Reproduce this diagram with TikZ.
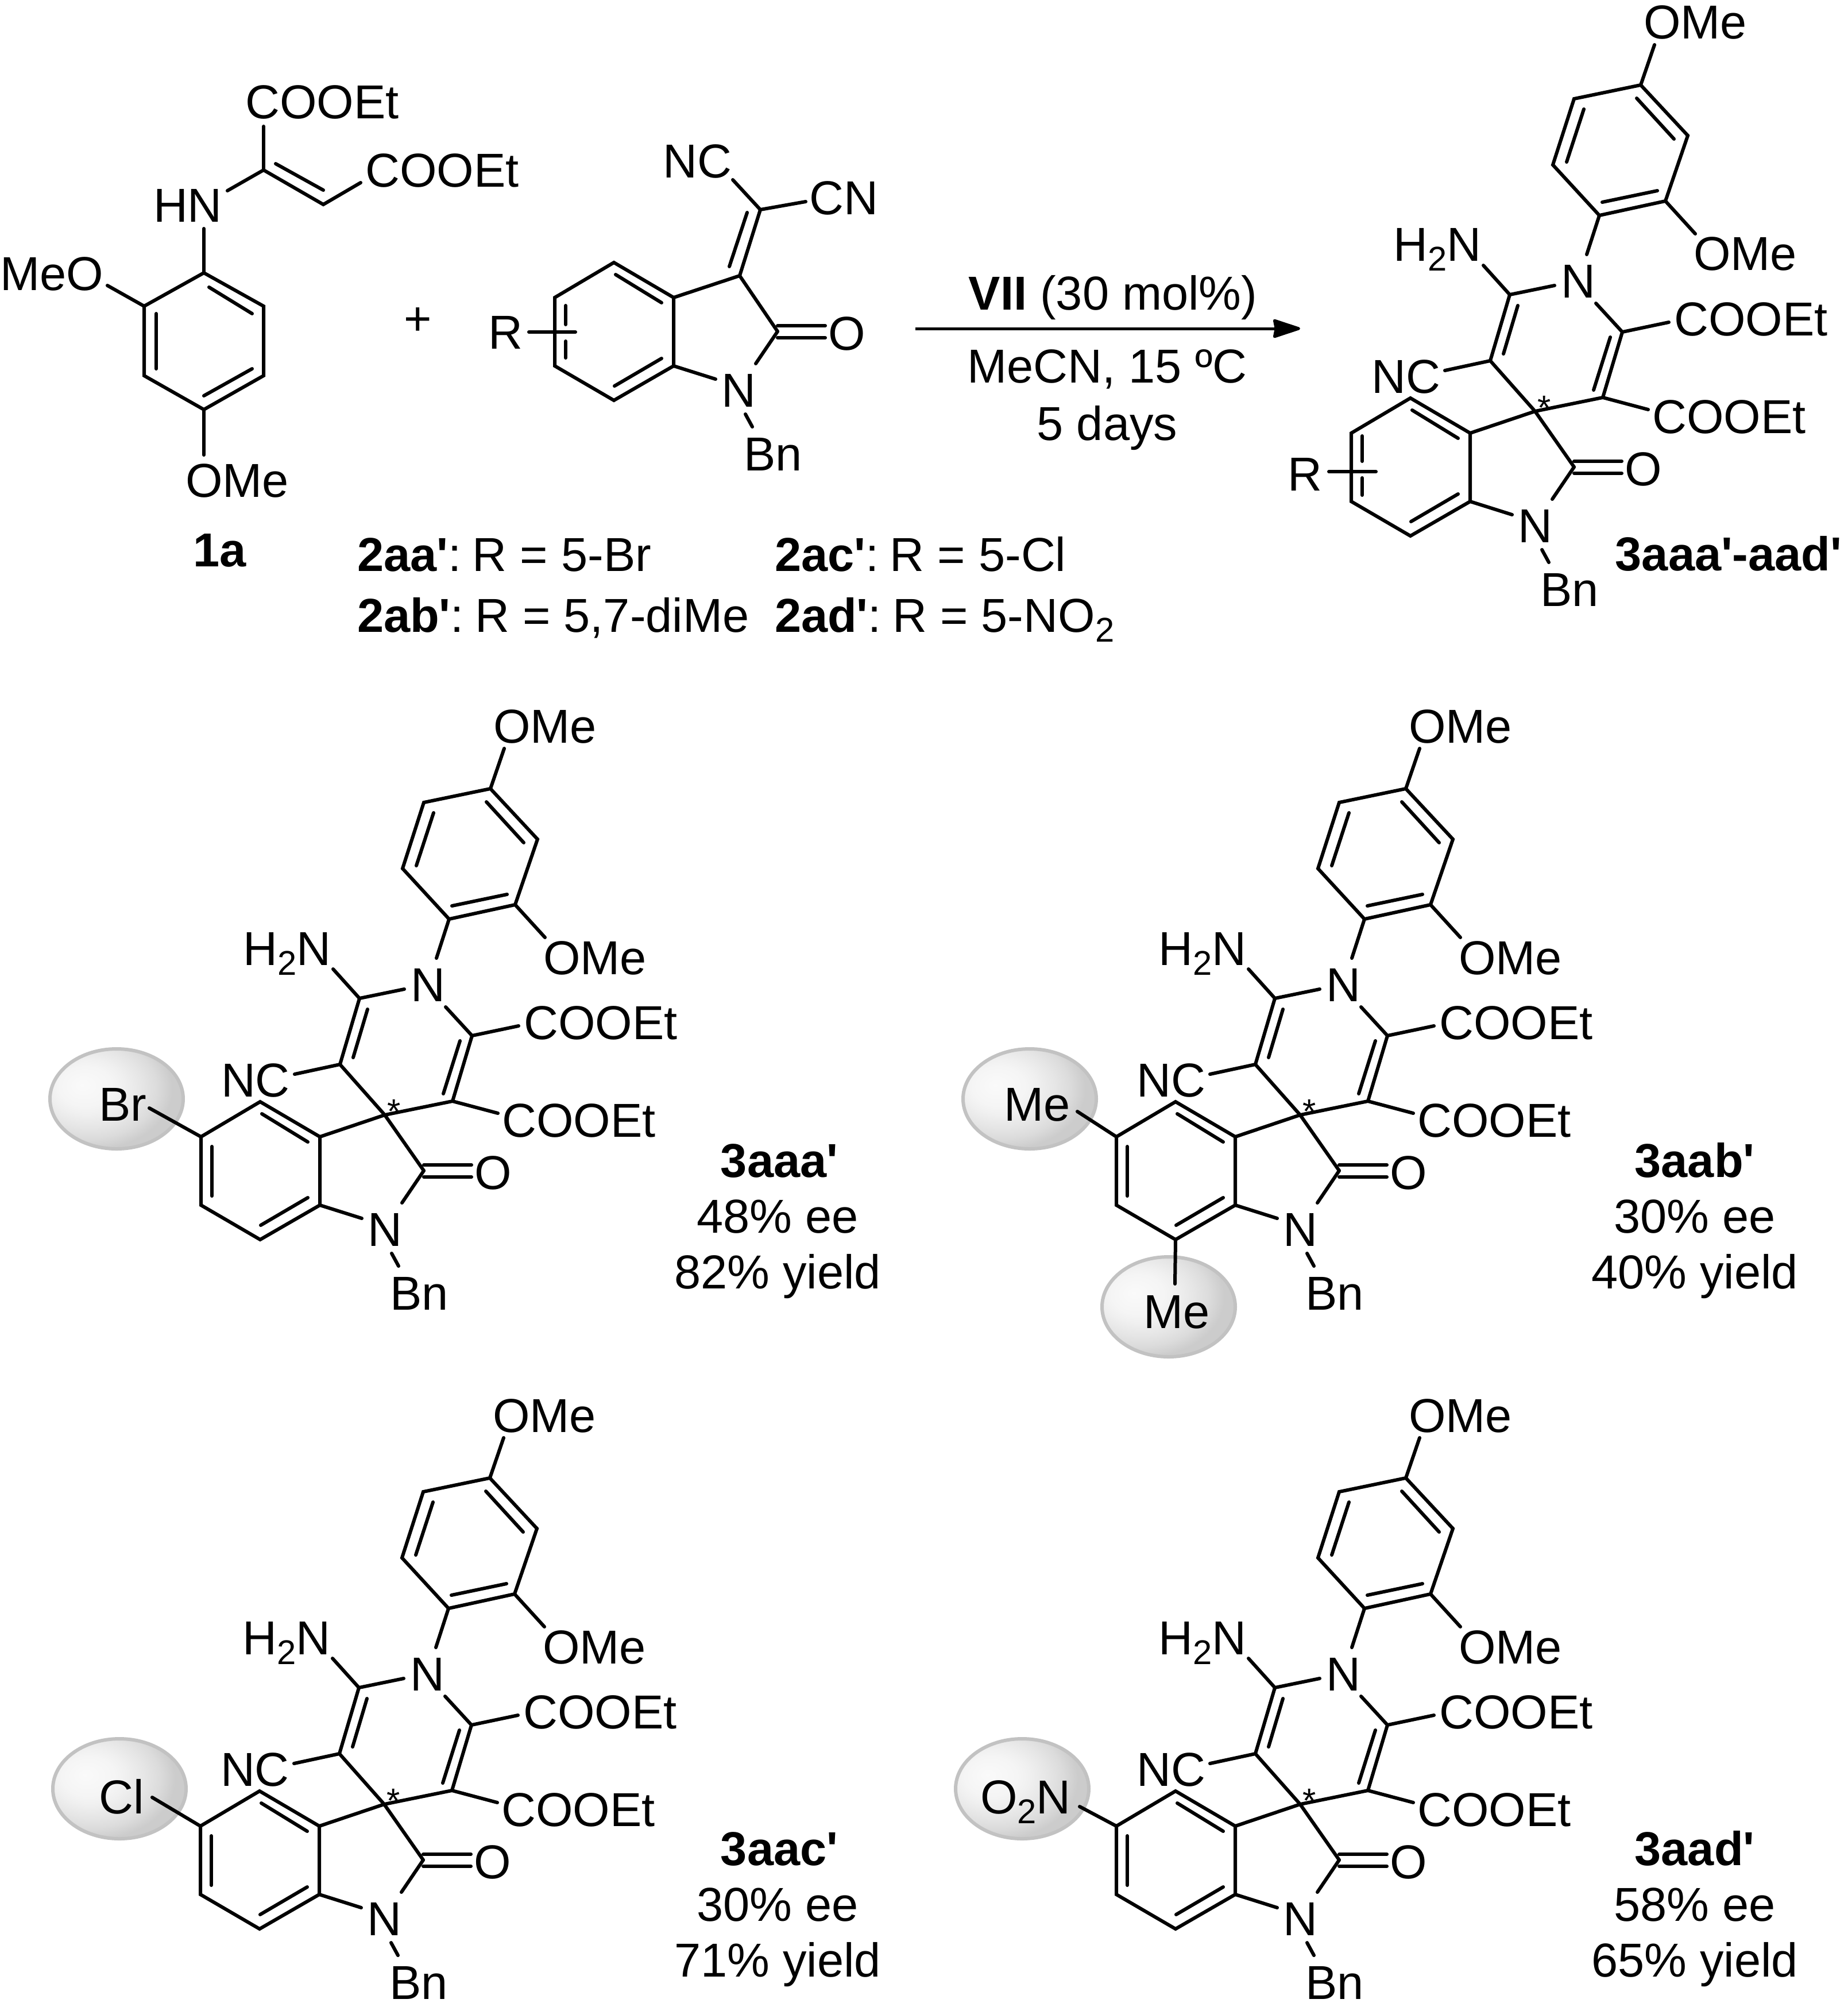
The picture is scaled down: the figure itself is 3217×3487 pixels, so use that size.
\documentclass[tikz,border=0pt]{standalone}
\usepackage{fontspec}
\usetikzlibrary{arrows.meta,calc}
\newfontfamily\arialf{Liberation Sans}
\newcommand\subn[1]{\raisebox{-1.7mm}{\fontsize{17}{18}\selectfont #1}}
\newcommand\apo{\char39\relax}
\newcommand\capgap{\hspace{-1.1mm}}
\pgfdeclareradialshading{ballgrey}{\pgfpoint{-13bp}{7bp}}{%
  color(0bp)=(black!2); color(10bp)=(black!4); color(14bp)=(black!6); color(20bp)=(black!10); color(25bp)=(black!14); color(30bp)=(black!20); color(100bp)=(black!20)}
\tikzset{
  bond/.style={line width=0.6mm,line cap=round,line join=miter,black},
  atom/.style={inner sep=0pt,outer sep=0pt,text height=5.8mm,text depth=0pt,anchor=center,
     font=\arialf\fontsize{23.6}{27}\selectfont},
  boldatom/.style={atom,font=\arialf\bfseries\fontsize{23.6}{27}\selectfont},
  capt/.style={inner sep=0pt,outer sep=0pt,anchor=base west,font=\arialf\fontsize{23.6}{27}\selectfont},
  starmark/.style={inner sep=0pt,outer sep=0pt,anchor=base,font=\arialf\fontsize{17}{20}\selectfont},
  ballmark/.style={shading=ballgrey,draw=black!24,line width=0.6mm},
  reacarrow/.style={line width=0.5mm,-{Stealth[length=5.3mm,width=3.4mm,inset=0.3mm,round]}},
}
% oxindole part, in the frame of the 3aaa' product
\newcommand\indolecore[1]{%
  \coordinate (i1) at (453,1918);
  \coordinate (i2) at (557,1979);
  \coordinate (i3) at (557,2098);
  \coordinate (i4) at (453,2158);
  \coordinate (i5) at (350,2098);
  \coordinate (i6) at (350,1979);
  \coordinate (lc) at (738,2038);
  \coordinate (lo1a) at (738,2028);
  \coordinate (lo1b) at (821,2028);
  \coordinate (lo2a) at (738,2049);
  \coordinate (lo2b) at (821,2049);
  \coordinate (in1a) at (456,1939);
  \coordinate (in1b) at (536,1988);
  \coordinate (in2a) at (536,2085);
  \coordinate (in2b) at (454,2133);
  \coordinate (lcn) at (700,2094);
  \coordinate (i3n) at (630,2121);
  \coordinate (nbn) at (682,2182);
  \coordinate (bnn) at (694,2204);
  \node[atom] (oo) at (859,2041) {O};
  \node[atom] (nn) at (670,2140) {N};
  \node[atom] (bn) at (730,2251) {Bn};
  \draw[bond] (i1)--(i2)--(i3)--(i4)--(i5)--(i6)--cycle;
  \draw[bond] (in1a)--(in1b);
  \draw[bond] (in2a)--(in2b);
  \draw[bond] (lo1a)--(lo1b);
  \draw[bond] (lo2a)--(lo2b);
  \draw[bond] (lc)--(lcn);
  \draw[bond] (i3)--(i3n);
  \draw[bond] (nbn)--(bnn);
  #1
}
\newcommand\plaininner{%
  \coordinate (in3a) at (369,1996);
  \coordinate (in3b) at (369,2082);
  \draw[bond] (in3a)--(in3b);}
% #1 prefix, #2 dx, #3 dy, #4 ring extras
\newcommand\prodmol[4]{%
\begin{scope}[shift={(#2,#3)},name prefix=#1-]
  \indolecore{#4}
  \coordinate (a1) at (854,1373);
  \coordinate (a2) at (936,1461);
  \coordinate (a3) at (897,1575);
  \coordinate (a4) at (782,1600);
  \coordinate (a5) at (701,1512);
  \coordinate (a6) at (738,1397);
  \coordinate (ai1a) at (847,1396);
  \coordinate (ai1b) at (912,1467);
  \coordinate (ai2a) at (883,1557);
  \coordinate (ai2b) at (787,1577);
  \coordinate (ai3a) at (725,1507);
  \coordinate (ai3b) at (755,1415);
  \coordinate (p1) at (626,1738);
  \coordinate (p2) at (592,1853);
  \coordinate (p3) at (670,1941);
  \coordinate (p4) at (788,1917);
  \coordinate (p5) at (822,1803);
  \coordinate (pi1a) at (640,1757);
  \coordinate (pi1b) at (615,1841);
  \coordinate (pi2a) at (801,1812);
  \coordinate (pi2b) at (772,1904);
  \coordinate (o1e) at (878,1303);
  \coordinate (o2e) at (949,1632);
  \coordinate (na) at (760,1668);
  \coordinate (np1) at (704,1722);
  \coordinate (np5) at (776,1753);
  \coordinate (h2e) at (580,1687);
  \coordinate (c1e) at (903,1786);
  \coordinate (c2e) at (867,1938);
  \coordinate (nce) at (513,1870);
  \node[atom] (ome1) at (949,1264) {OMe};
  \node[atom] (ome2) at (1036,1667) {OMe};
  \node[atom] (npy) at (745,1714) {N};
  \node[atom] (h2n) at (500,1651) {H\subn{2}N};
  \node[atom] (coo1) at (1046,1780) {COOEt};
  \node[atom] (coo2) at (1008,1950) {COOEt};
  \node[atom] (nc) at (445,1880) {NC};
  \node[starmark] (st) at (686,1955) {*};
  \draw[bond] (a1)--(a2)--(a3)--(a4)--(a5)--(a6)--cycle;
  \draw[bond] (ai1a)--(ai1b);
  \draw[bond] (ai2a)--(ai2b);
  \draw[bond] (ai3a)--(ai3b);
  \draw[bond] (a1)--(o1e);
  \draw[bond] (a3)--(o2e);
  \draw[bond] (a4)--(na);
  \draw[bond] (np1)--(p1)--(p2)--(p3)--(p4)--(p5)--(np5);
  \draw[bond] (pi1a)--(pi1b);
  \draw[bond] (pi2a)--(pi2b);
  \draw[bond] (p1)--(h2e);
  \draw[bond] (p2)--(nce);
  \draw[bond] (p4)--(c2e);
  \draw[bond] (p5)--(c1e);
  \draw[bond] (i2)--(p3);
  \draw[bond] (p3)--(lc);
\end{scope}}
\newcommand\yieldcap[7]{%
  \node[boldatom] (#1a) at (#2,#3) {#5};
  \node[atom] (#1b) at ($(#2,#3)+(#4,97)$) {#6};
  \node[atom] (#1c) at ($(#2,#3)+(#4,194)$) {#7};}
\begin{document}
\begin{tikzpicture}[x=0.1mm,y=-0.1mm]
\useasboundingbox (0,0) rectangle (3217,3487);
\fill[white] (0,0) rectangle (3217,3487);

% highlight balls, behind the molecules
\path[ballmark] (203,1913) ellipse [x radius=116,y radius=87];
\path[ballmark] (1793,1913) ellipse [x radius=116,y radius=87];
\path[ballmark] (2035,2275) ellipse [x radius=116,y radius=87];
\path[ballmark] (208,3114) ellipse [x radius=116,y radius=87];
\path[ballmark] (1780,3114) ellipse [x radius=116,y radius=87];

% 1a
\coordinate (r1) at (355,475);
\coordinate (r2) at (459,533);
\coordinate (r3) at (459,654);
\coordinate (r4) at (355,713);
\coordinate (r5) at (251,654);
\coordinate (r6) at (251,533);
\coordinate (ri1a) at (364,500);
\coordinate (ri1b) at (439,546);
\coordinate (ri2a) at (439,642);
\coordinate (ri2b) at (355,689);
\coordinate (ri3a) at (272,642);
\coordinate (ri3b) at (272,546);
\coordinate (hnb) at (355,398);
\coordinate (hnr) at (396,332);
\coordinate (v1) at (459,296);
\coordinate (v2) at (563,356);
\coordinate (vi1) at (480,285);
\coordinate (vi2) at (563,331);
\coordinate (v1e) at (459,220);
\coordinate (v2e) at (628,318);
\coordinate (meoe) at (187,497);
\coordinate (omee) at (355,792);
\node[atom] (coo3) at (561,178) {COOEt};
\node[atom] (coo4) at (770,297) {COOEt};
\node[atom] (hn) at (327,358) {HN};
\node[atom] (meo) at (90,477) {MeO};
\node[atom] (ome3) at (413,836) {OMe};
\node[boldatom] (lab1a) at (383,957) {1a};
\draw[bond] (r1)--(r2)--(r3)--(r4)--(r5)--(r6)--cycle;
\draw[bond] (ri1a)--(ri1b);
\draw[bond] (ri2a)--(ri2b);
\draw[bond] (ri3a)--(ri3b);
\draw[bond] (r1)--(hnb);
\draw[bond] (hnr)--(v1)--(v2)--(v2e);
\draw[bond] (vi1)--(vi2);
\draw[bond] (v1)--(v1e);
\draw[bond] (r6)--(meoe);
\draw[bond] (r4)--(omee);

\node[atom] (plus) at (728,554) {+};

% 2 (oxindole reagent)
\begin{scope}[shift={(616,-1461)},name prefix=g-]
  \indolecore{
    \coordinate (gb1) at (369,1993); \coordinate (gb2) at (369,2026);
    \coordinate (gb3) at (369,2055); \coordinate (gb4) at (369,2084);
    \draw[bond] (gb1)--(gb2);
    \draw[bond] (gb3)--(gb4);
  }
\end{scope}
\coordinate (ex1) at (1288,480);
\coordinate (ex2) at (1324,365);
\coordinate (exi1) at (1270,464);
\coordinate (exi2) at (1301,370);
\coordinate (nce2) at (1276,313);
\coordinate (cne2) at (1403,351);
\coordinate (rb1) at (921,578);
\coordinate (rb2) at (1002,578);
\node[atom] (nc2) at (1214,281) {NC};
\node[atom] (cn2) at (1469,345) {CN};
\node[atom] (r2l) at (880,579) {R};
\draw[bond] (g-i2)--(ex1)--(g-lc);
\draw[bond] (ex1)--(ex2);
\draw[bond] (exi1)--(exi2);
\draw[bond] (ex2)--(nce2);
\draw[bond] (ex2)--(cne2);
\draw[bond] (rb1)--(rb2);

% reagent table
\node[capt] (t1) at (622,994) {\textbf{2aa\apo}:\capgap{} R = 5-Br};
\node[capt] (t2) at (622,1100) {\textbf{2ab\apo}:\capgap{} R = 5,7-diMe};
\node[capt] (t3) at (1349,994) {\textbf{2ac\apo}:\capgap{} R = 5-Cl};
\node[capt] (t4) at (1349,1100) {\textbf{2ad\apo}:\capgap{} R = 5-NO\subn{2}};

% reaction arrow
\coordinate (arrl) at (1594,572);
\coordinate (arrr) at (2264,572);
\draw[reacarrow] (arrl)--(arrr);
\node[atom] (cond1) at (1938,510) {\textbf{VII} (30 mol\%)};
\node[atom] (cond2) at (1928,637) {MeCN, 15 ºC};
\node[atom] (cond3) at (1928,737) {5 days};

% general product
\prodmol{t}{2003}{-1225}{
    \coordinate (tb1) at (369,1984); \coordinate (tb2) at (369,2028);
    \coordinate (tb3) at (369,2057); \coordinate (tb4) at (369,2087);
    \draw[bond] (tb1)--(tb2);
    \draw[bond] (tb3)--(tb4);
}
\coordinate (trb1) at (2314,821);
\coordinate (trb2) at (2396,821);
\node[atom] (tr) at (2272,825) {R};
\draw[bond] (trb1)--(trb2);
\node[boldatom] (labt) at (3010,964) {3aaa\apo-aad\apo};

% 3aaa'
\prodmol{m}{0}{0}{\plaininner}
\coordinate (mxe) at (260,1929);
\node[atom] (mx) at (214,1922) {Br};
\draw[bond] (m-i6)--(mxe);
\yieldcap{ca}{1357}{2020}{-3}{3aaa\apo}{48\% ee}{82\% yield}

% 3aab'
\prodmol{n}{1594}{0}{\plaininner}
\coordinate (nxe) at (1876,1935);
\coordinate (nye) at (2046,2235);
\node[atom] (nx) at (1806,1922) {Me};
\node[atom] (ny) at (2049,2283) {Me};
\draw[bond] (n-i6)--(nxe);
\draw[bond] (n-i4)--(nye);
\yieldcap{cb}{2951}{2020}{0}{3aab\apo}{30\% ee}{40\% yield}

% 3aac'
\prodmol{o}{-1}{1200}{\plaininner}
\coordinate (oxe) at (265,3129);
\node[atom] (ox) at (212,3128) {Cl};
\draw[bond] (o-i6)--(oxe);
\yieldcap{cc}{1357}{3218}{-3}{3aac\apo}{30\% ee}{71\% yield}

% 3aad'
\prodmol{q}{1594}{1200}{\plaininner}
\coordinate (qxe) at (1880,3145);
\node[atom] (qx) at (1786,3128) {O\subn{2}N};
\draw[bond] (q-i6)--(qxe);
\yieldcap{cd}{2951}{3218}{0}{3aad\apo}{58\% ee}{65\% yield}
\end{tikzpicture}
\end{document}
